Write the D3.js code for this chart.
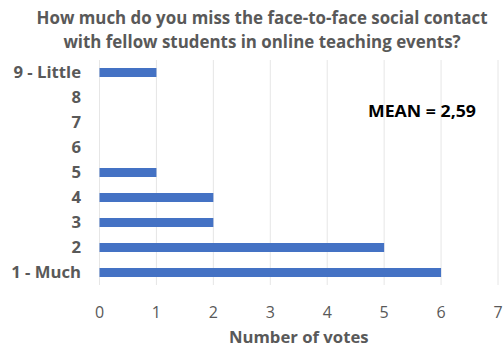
<!DOCTYPE html>
<html><head><meta charset="utf-8">
<script src="https://cdn.jsdelivr.net/npm/d3@7"></script>
<style>body{margin:0;background:#fff}</style>
</head><body>
<svg id="chart" width="504" height="348"></svg>
<script>
// Survey answers, top to bottom as shown on the axis
const categories = ["9 - Little", "8", "7", "6", "5", "4", "3", "2", "1 - Much"];
const votes = [1, 0, 0, 0, 1, 2, 2, 5, 6];
const xTicks = [0, 1, 2, 3, 4, 5, 6, 7];
const titleLines = ["How much do you miss the face-to-face social contact",
                    "with fellow students in online teaching events?"];
const meanLabel = "MEAN = 2,59";
const xAxisTitle = "Number of votes";

const font = "'Open Sans', sans-serif";
const grey = "#595959";
const svg = d3.select("#chart");
const m = {left: 99.5, right: 6, top: 60, bottom: 63};
const W = 504, H = 348;

const x = d3.scaleLinear().domain([0, 7]).range([m.left, W - m.right]);
const y = d3.scaleBand().domain(categories).range([m.top, H - m.bottom]).paddingInner(0.64).paddingOuter(0.32);

// vertical gridlines
svg.append("g").selectAll("line").data(xTicks).join("line")
  .attr("x1", d => x(d)).attr("x2", d => x(d))
  .attr("y1", m.top).attr("y2", H - m.bottom)
  .attr("stroke", "#e6e6e6").attr("stroke-width", 1);

// bars
svg.append("g").selectAll("rect").data(categories).join("rect")
  .attr("x", x(0))
  .attr("y", d => y(d))
  .attr("width", (d, i) => x(votes[i]) - x(0))
  .attr("height", y.bandwidth())
  .attr("fill", "#4472c4");

// category labels
svg.append("g").selectAll("text").data(categories).join("text")
  .attr("x", 81).attr("y", d => y(d) + y.bandwidth() / 2)
  .attr("dy", "0.35em").attr("text-anchor", "end")
  .attr("font-family", font).attr("font-weight", "bold").attr("font-size", 16.7)
  .attr("fill", grey).text(d => d);

// x tick labels
svg.append("g").selectAll("text").data(xTicks).join("text")
  .attr("x", d => x(d)).attr("y", 312).attr("dy", "0.35em")
  .attr("text-anchor", "middle")
  .attr("font-family", font).attr("font-weight", 500).attr("font-size", 16)
  .attr("fill", grey).text(d => d);

// axis title
svg.append("text").attr("x", x(3.5)).attr("y", 337).attr("dy", "0.35em")
  .attr("text-anchor", "middle")
  .attr("font-family", font).attr("font-weight", "bold").attr("font-size", 16.7)
  .attr("fill", grey).text(xAxisTitle);

// chart title
svg.append("g").selectAll("text").data(titleLines).join("text")
  .attr("x", 262).attr("y", (d, i) => 18 + i * 24).attr("dy", "0.35em")
  .attr("text-anchor", "middle")
  .attr("font-family", font).attr("font-weight", "bold").attr("font-size", 16.9)
  .attr("fill", grey).text(d => d);

// mean annotation
svg.append("text").attr("x", 368).attr("y", 111).attr("dy", "0.35em")
  .attr("font-family", font).attr("font-weight", "bold").attr("font-size", 16.5)
  .attr("textLength", 108).attr("lengthAdjust", "spacingAndGlyphs")
  .attr("fill", "#000").text(meanLabel);
</script>
</body></html>
